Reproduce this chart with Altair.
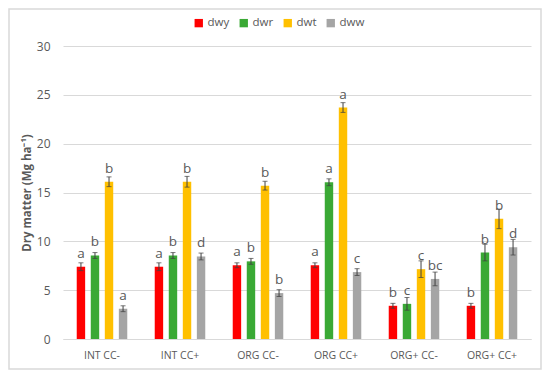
import altair as alt
import pandas as pd

groups = ["INT CC-", "INT CC+", "ORG CC-", "ORG CC+", "ORG+ CC-", "ORG+ CC+"]
series = ["dwy", "dwr", "dwt", "dww"]
colors = ["#FF0000", "#3AA935", "#FFC000", "#A5A5A5"]

dwy = [7.4, 7.4, 7.55, 7.55, 3.4, 3.4]
dwr = [8.55, 8.55, 7.95, 16.05, 3.6, 8.85]
dwt = [16.1, 16.1, 15.7, 23.7, 7.15, 12.3]
dww = [3.1, 8.45, 4.7, 6.85, 6.15, 9.4]

err_dwy = [0.4, 0.4, 0.25, 0.25, 0.25, 0.25]
err_dwr = [0.3, 0.3, 0.3, 0.35, 0.65, 0.85]
err_dwt = [0.5, 0.55, 0.45, 0.5, 0.85, 1.0]
err_dww = [0.3, 0.35, 0.35, 0.35, 0.7, 0.8]

let_dwy = ["a", "a", "a", "a", "b", "b"]
let_dwr = ["b", "b", "b", "a", "c", "b"]
let_dwt = ["b", "b", "b", "a", "c", "b"]
let_dww = ["a", "d", "b", "c", "bc", "d"]

vals = {"dwy": dwy, "dwr": dwr, "dwt": dwt, "dww": dww}
errs = {"dwy": err_dwy, "dwr": err_dwr, "dwt": err_dwt, "dww": err_dww}
lets = {"dwy": let_dwy, "dwr": let_dwr, "dwt": let_dwt, "dww": let_dww}

rows = []
for s in series:
    for i, g in enumerate(groups):
        v = vals[s][i]
        e = errs[s][i]
        rows.append({"group": g, "series": s, "value": v,
                     "lo": v - e, "hi": v + e, "letter": lets[s][i]})
df = pd.DataFrame(rows)

FONT = "Open Sans"
TXT = "#595959"

x_enc = alt.X("group:N", sort=groups, title=None,
              scale=alt.Scale(paddingInner=0.28, paddingOuter=0.14),
              axis=alt.Axis(labelAngle=0, ticks=False, domainColor="#d9d9d9",
                            labelFontSize=10.5, labelColor=TXT, labelPadding=11,
                            labelFont=FONT, grid=False))
xoff = alt.XOffset("series:N", sort=series,
                   scale=alt.Scale(paddingInner=0.4, paddingOuter=0.2))

base = alt.Chart(df)

bars = base.mark_bar().encode(
    x=x_enc,
    xOffset=xoff,
    y=alt.Y("value:Q", scale=alt.Scale(domain=[0, 30]),
            title="Dry matter (Mg ha⁻¹)",
            axis=alt.Axis(values=[0, 5, 10, 15, 20, 25, 30], ticks=False,
                          domain=False, gridColor="#d9d9d9",
                          labelFontSize=12, labelColor=TXT, labelFont=FONT,
                          labelPadding=13, titleFont=FONT, titleFontSize=11.5,
                          titleFontWeight="bold", titleColor=TXT,
                          titlePadding=4)),
    color=alt.Color("series:N", sort=series,
                    scale=alt.Scale(domain=series, range=colors),
                    legend=alt.Legend(title=None, orient="none", direction="horizontal",
                                      legendX=130, legendY=-29, symbolType="square",
                                      symbolSize=70, symbolStrokeWidth=0,
                                      labelFontSize=11.5, labelColor=TXT,
                                      labelFont=FONT, columnPadding=8,
                                      symbolOffset=0, labelOffset=3)),
)

rules = base.mark_rule(color="#404040", strokeWidth=1).encode(
    x=alt.X("group:N", sort=groups), xOffset=xoff,
    y="lo:Q", y2="hi:Q")

caps_lo = base.mark_tick(color="#404040", thickness=1, size=5).encode(
    x=alt.X("group:N", sort=groups), xOffset=xoff, y="lo:Q")
caps_hi = base.mark_tick(color="#404040", thickness=1, size=5).encode(
    x=alt.X("group:N", sort=groups), xOffset=xoff, y="hi:Q")

labels = base.mark_text(dy=-13, fontSize=13.5, color=TXT, font=FONT,
                        baseline="middle").encode(
    x=alt.X("group:N", sort=groups), xOffset=xoff, y="value:Q",
    text="letter:N")

frame_df = pd.DataFrame({"k": [1]})
frame = alt.Chart(frame_df).mark_rect(
    fill="white", fillOpacity=0, stroke="#d9d9d9", strokeWidth=1.5).encode(
    x=alt.value(-54), x2=alt.value(478), y=alt.value(-37), y2=alt.value(323))

chart = alt.layer(frame, bars, rules, caps_lo, caps_hi, labels).properties(
    width=468, height=293,
    autosize=alt.AutoSizeParams(type="none"),
    padding={"left": 55, "top": 38, "right": 11, "bottom": 31},
    background="white",
).configure_view(stroke=None)

chart.save("out.html", embed_options={"renderer": "svg", "actions": False})
